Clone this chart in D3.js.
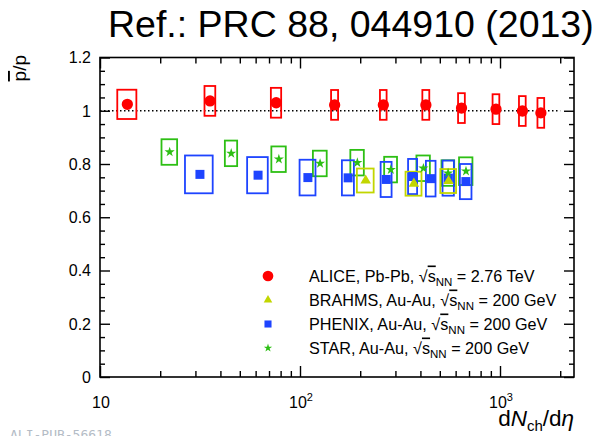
<!DOCTYPE html>
<html>
<head>
<meta charset="utf-8">
<script src="https://cdn.jsdelivr.net/npm/d3@7"></script>
<style>
  body { margin: 0; background: #fff; }
  text { font-family: "Liberation Sans", Arial, Helvetica, sans-serif; }
</style>
</head>
<body>
<svg id="chart" width="592" height="436"></svg>
<script>
// ALICE Pb-Pb 2.76 TeV: antiproton/proton ratio vs dN_ch/deta
const aliceX    = [13.7, 35.5, 76, 149, 261, 426, 642, 955, 1294, 1601];
const aliceXErr = [1.5, 2.2, 4.5, 6, 10, 17, 25, 37, 50, 62];
const aliceY    = [1.024, 1.037, 1.030, 1.022, 1.022, 1.022, 1.010, 1.006, 0.999, 0.992];
const aliceSys  = [0.055, 0.056, 0.056, 0.056, 0.056, 0.056, 0.056, 0.056, 0.056, 0.056];

// BRAHMS Au-Au 200 GeV
const brahmsX    = [213, 371, 553];
const brahmsXErr = [20.5, 34, 50];
const brahmsY    = [0.738, 0.726, 0.736];
const brahmsSys  = [0.045, 0.045, 0.045];

// PHENIX Au-Au 200 GeV
const phenixX    = [31.6, 61.7, 109.5, 174, 270, 366, 451, 552, 675];
const phenixXErr = [5, 7.3, 10, 12, 17, 19, 25, 36, 45];
const phenixY    = [0.761, 0.758, 0.749, 0.748, 0.742, 0.753, 0.745, 0.747, 0.734];
const phenixSys  = [0.071, 0.068, 0.067, 0.066, 0.066, 0.066, 0.067, 0.066, 0.066];

// STAR Au-Au 200 GeV
const starX    = [22.3, 45.3, 78.4, 126, 193.5, 284.5, 414, 550, 676];
const starXErr = [2, 3.2, 6.5, 10, 15, 21, 32, 40, 52];
const starY    = [0.845, 0.840, 0.818, 0.802, 0.805, 0.779, 0.784, 0.766, 0.773];
const starSys  = [0.048, 0.048, 0.048, 0.048, 0.048, 0.048, 0.048, 0.048, 0.052];

// Axis ticks and labels
const xMajor = [10, 100, 1000];
const xMinor = [20, 30, 40, 50, 60, 70, 80, 90, 200, 300, 400, 500, 600, 700, 800, 900, 2000];
const xLabelBase = ["10", "10", "10"];
const xLabelExp  = ["", "2", "3"];
const yMajor = [0, 0.2, 0.4, 0.6, 0.8, 1.0, 1.2];
const yLabels = ["0", "0.2", "0.4", "0.6", "0.8", "1", "1.2"];
const yMinor = d3.range(0, 24).map(i => i * 0.05).filter(v => Math.round(v * 100) % 20 !== 0);

const refLineX = [10, 2000];
const refLineY = 1.0;

const titleText = "Ref.: PRC 88, 044910 (2013)";
const watermark = "ALI-PUB-56618";

const legendEntries = [
  { name: "ALICE, Pb-Pb, ", energy: " = 2.76 TeV", color: "#ff0000", symbol: d3.symbolCircle, size: 90 },
  { name: "BRAHMS, Au-Au, ", energy: " = 200 GeV", color: "#c2d600", symbol: d3.symbolTriangle, size: 32 },
  { name: "PHENIX, Au-Au, ", energy: " = 200 GeV", color: "#1e44ff", symbol: d3.symbolSquare, size: 50 },
  { name: "STAR, Au-Au, ", energy: " = 200 GeV", color: "#2dbf14", symbol: d3.symbolStar, size: 22 }
];

const svg = d3.select("#chart");
const plotLeft = 100, plotRight = 574, plotTop = 57.5, plotBottom = 377;

const x = d3.scaleLog().domain([10, 2344]).range([plotLeft, plotRight]);
const y = d3.scaleLinear().domain([0, 1.2]).range([plotBottom, plotTop]);

// Title
svg.append("text")
  .attr("x", 108).attr("y", 37)
  .attr("font-size", 37.5)
  .attr("fill", "#000")
  .text(titleText);

// Dotted reference line at unity
svg.append("line")
  .attr("x1", x(refLineX[0])).attr("x2", x(refLineX[1]))
  .attr("y1", y(refLineY)).attr("y2", y(refLineY))
  .attr("stroke", "#000").attr("stroke-width", 1.5)
  .attr("stroke-dasharray", "1.5,2.5");

// Systematic-uncertainty boxes
function drawBoxes(xs, xe, ys, sys, color) {
  const data = xs.map((v, i) => ({ x: v, xe: xe[i], y: ys[i], s: sys[i] }));
  svg.append("g").selectAll("rect").data(data).join("rect")
    .attr("x", d => x(d.x - d.xe))
    .attr("width", d => x(d.x + d.xe) - x(d.x - d.xe))
    .attr("y", d => y(d.y + d.s))
    .attr("height", d => y(d.y - d.s) - y(d.y + d.s))
    .attr("fill", "none")
    .attr("stroke", color)
    .attr("stroke-width", 1.8);
}
function drawMarkers(xs, ys, color, symbol, size) {
  const data = xs.map((v, i) => ({ x: v, y: ys[i] }));
  svg.append("g").selectAll("path").data(data).join("path")
    .attr("transform", d => `translate(${x(d.x)},${y(d.y)})`)
    .attr("d", d3.symbol().type(symbol).size(size))
    .attr("fill", color);
}

drawBoxes(aliceX, aliceXErr, aliceY, aliceSys, legendEntries[0].color);
drawBoxes(starX, starXErr, starY, starSys, legendEntries[3].color);
drawBoxes(phenixX, phenixXErr, phenixY, phenixSys, legendEntries[2].color);
drawBoxes(brahmsX, brahmsXErr, brahmsY, brahmsSys, legendEntries[1].color);

drawMarkers(aliceX, aliceY, legendEntries[0].color, d3.symbolCircle, 100);
drawMarkers(phenixX, phenixY, legendEntries[2].color, d3.symbolSquare, 81);
drawMarkers(starX, starY, legendEntries[3].color, d3.symbolStar, 32);
drawMarkers(brahmsX, brahmsY, legendEntries[1].color, d3.symbolTriangle, 48);

// Frame
svg.append("rect")
  .attr("x", plotLeft).attr("y", plotTop)
  .attr("width", plotRight - plotLeft).attr("height", plotBottom - plotTop)
  .attr("fill", "none").attr("stroke", "#000").attr("stroke-width", 1.6);

// Ticks on all four sides, pointing inward
function ticks(axis, transform) {
  svg.append("g").attr("transform", transform).call(axis)
    .call(g => g.select(".domain").remove())
    .call(g => g.selectAll("line").attr("stroke", "#000").attr("stroke-width", 1.4));
}
ticks(d3.axisBottom(x).tickValues(xMajor).tickSize(-11).tickFormat(() => ""), `translate(0,${plotBottom})`);
ticks(d3.axisBottom(x).tickValues(xMinor).tickSize(-6).tickFormat(() => ""), `translate(0,${plotBottom})`);
ticks(d3.axisTop(x).tickValues(xMajor).tickSize(-11).tickFormat(() => ""), `translate(0,${plotTop})`);
ticks(d3.axisTop(x).tickValues(xMinor).tickSize(-6).tickFormat(() => ""), `translate(0,${plotTop})`);
ticks(d3.axisLeft(y).tickValues(yMajor).tickSize(-10).tickFormat(() => ""), `translate(${plotLeft},0)`);
ticks(d3.axisLeft(y).tickValues(yMinor).tickSize(-5).tickFormat(() => ""), `translate(${plotLeft},0)`);
ticks(d3.axisRight(y).tickValues(yMajor).tickSize(-10).tickFormat(() => ""), `translate(${plotRight},0)`);
ticks(d3.axisRight(y).tickValues(yMinor).tickSize(-5).tickFormat(() => ""), `translate(${plotRight},0)`);

// Tick labels
svg.append("g").selectAll("text").data(yMajor).join("text")
  .attr("x", 91).attr("y", d => y(d)).attr("dy", "0.36em")
  .attr("text-anchor", "end").attr("font-size", 16).attr("fill", "#000")
  .text((d, i) => yLabels[i]);

const xl = svg.append("g").selectAll("text").data(xMajor).join("text")
  .attr("x", d => x(d) + 1).attr("y", 408)
  .attr("text-anchor", "middle").attr("font-size", 16).attr("fill", "#000");
xl.append("tspan").text((d, i) => xLabelBase[i]);
xl.append("tspan").attr("dy", -7).attr("font-size", 11).text((d, i) => xLabelExp[i]);

// Axis titles
const xt = svg.append("text")
  .attr("x", plotRight).attr("y", 426).attr("text-anchor", "end")
  .attr("font-size", 22.5).attr("fill", "#000");
xt.append("tspan").text("d");
xt.append("tspan").attr("font-style", "italic").text("N");
xt.append("tspan").attr("dy", 5).attr("font-size", 15).text("ch");
xt.append("tspan").attr("dy", -5).text("/d");
xt.append("tspan").attr("font-style", "italic").text("η");

const yt = svg.append("text")
  .attr("transform", "translate(26,55) rotate(-90)")
  .attr("text-anchor", "end").attr("font-size", 19).attr("fill", "#000");
yt.append("tspan").style("text-decoration", "overline").text("p");
yt.append("tspan").text("/p");

// Legend
const lg = svg.append("g").selectAll("g").data(legendEntries).join("g")
  .attr("transform", (d, i) => `translate(268,${276 + i * 24})`);
lg.append("path")
  .attr("d", d => d3.symbol().type(d.symbol).size(d.size)())
  .attr("fill", d => d.color);
const lt = lg.append("text")
  .attr("x", 41).attr("y", 5.5).attr("font-size", 16.2).attr("fill", "#000");
lt.append("tspan").text(d => d.name + "√");
lt.append("tspan").style("text-decoration", "overline").text("s");
lt.append("tspan").attr("dy", 4).attr("font-size", 11.5).text("NN");
lt.append("tspan").attr("dy", -4).text(d => d.energy);

// Publication tag
svg.append("text")
  .attr("x", 10).attr("y", 439)
  .style("font-family", "'DejaVu Sans Mono', monospace")
  .attr("font-size", 13).attr("fill", "#b4bcc6")
  .text(watermark);
</script>
</body>
</html>
